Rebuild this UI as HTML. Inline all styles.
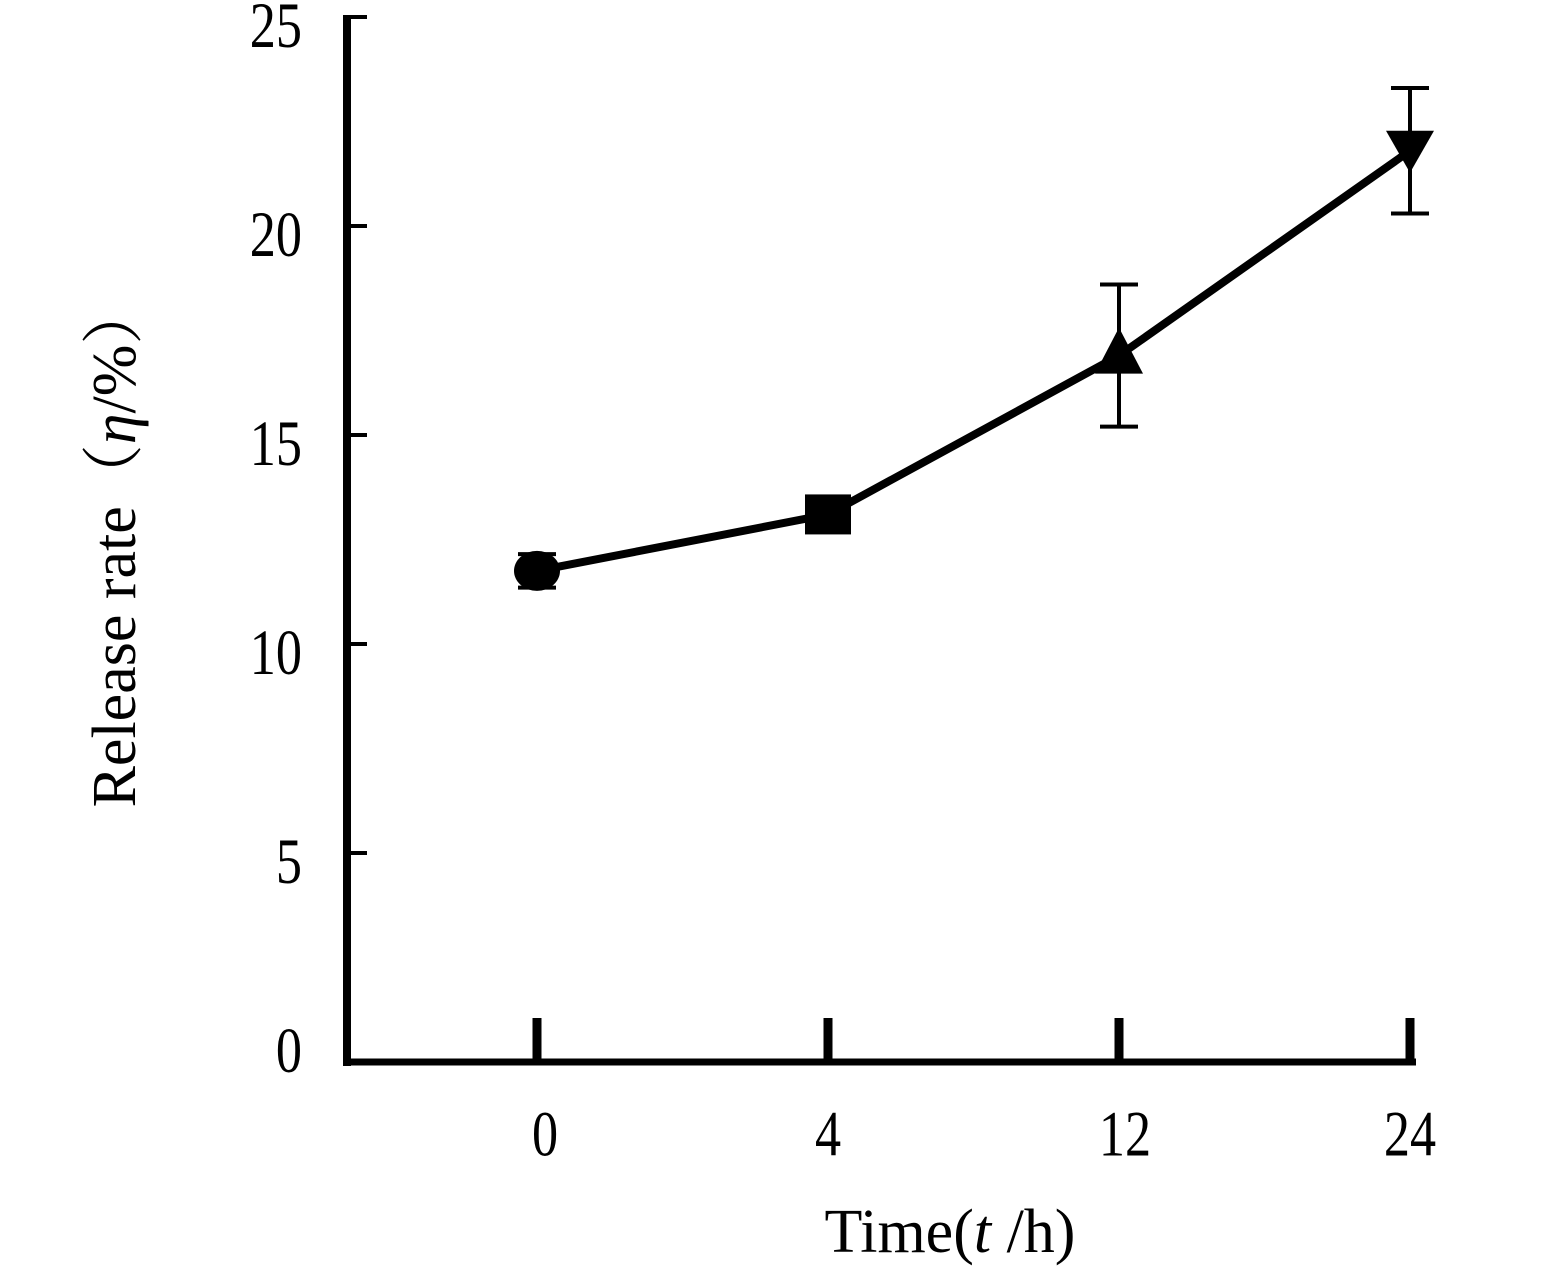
<!DOCTYPE html>
<html><head><meta charset="utf-8"><style>
html,body{margin:0;padding:0;background:#fff;}
svg{display:block;}
text{font-family:"Liberation Serif","Noto Serif CJK SC",serif;fill:#000;}
</style></head><body>
<svg id="chart" width="1567" height="1283" viewBox="0 0 1567 1283"></svg>
<script>
const categories = ["0","4","12","24"];
const values = [11.75, 13.1, 16.9, 21.8];
const errors = [0.4, 0, 1.7, 1.5];
const yTicks = [0,5,10,15,20,25];

const NS="http://www.w3.org/2000/svg";
const svg=document.getElementById('chart');
function el(tag,attrs,parent){const e=document.createElementNS(NS,tag);for(const k in attrs)e.setAttribute(k,attrs[k]);(parent||svg).appendChild(e);return e;}
const y0=1062, y25=17;
function yScale(v){return y0-(v/25)*(y0-y25);}
const xPos0=537, xStep=(1410-537)/(categories.length-1);
function xScale(i){return xPos0+i*xStep;}

let a=el('line',{x1:347,y1:15,x2:347,y2:1066,stroke:'#000','stroke-width':8});


a=el('line',{x1:343,y1:1062,x2:1416,y2:1062,stroke:'#000','stroke-width':7});



yTicks.forEach(v=>{
  const y=yScale(v);
  if(v>0){const t=el('line',{x1:347,y1:y,x2:367,y2:y,stroke:'#000','stroke-width':4});
  
  }
  const ly=y+(v===0?-10:10);
  const l=el('text',{x:302,y:ly+18,'font-size':58,'text-anchor':'end',transform:`translate(302 ${ly}) scale(0.9 1.12) translate(-302 ${-ly})`});
  l.textContent=v;
  
  
});
categories.forEach((c,i)=>{
  const x=xScale(i);
  const t=el('line',{x1:x,y1:1018,x2:x,y2:1062,stroke:'#000','stroke-width':9});
  
  
  const lx=x+(i==0?8:0)+(i==2?6:0);
  const l=el('text',{x:lx,y:1133+20,'font-size':58,'text-anchor':'middle',transform:`translate(${lx} 1133) scale(0.9 1.12) translate(${-lx} -1133)`});
  l.textContent=c;
  
  
});

const pts=values.map((v,i)=>xScale(i)+','+yScale(v)).join(' ');
const pl=el('polyline',{points:pts,fill:'none',stroke:'#000','stroke-width':8,'stroke-linejoin':'round'});



values.forEach((v,i)=>{
  if(!errors[i])return;
  const x=xScale(i),yt=yScale(v+errors[i]),yb=yScale(v-errors[i]);
  const g=el('g',{stroke:'#000','stroke-width':4});
  
  
  el('line',{x1:x,y1:yt,x2:x,y2:yb},g);
  el('line',{x1:x-19,y1:yt,x2:x+19,y2:yt},g);
  el('line',{x1:x-19,y1:yb,x2:x+19,y2:yb},g);
});

values.forEach((v,i)=>{
  const x=xScale(i),y=yScale(v);let m;
  if(i==0)m=el('ellipse',{cx:x,cy:y,rx:23,ry:20,fill:'#000'});
  else if(i==1)m=el('rect',{x:x-23,y:y-20,width:46,height:40,fill:'#000'});
  else if(i==2)m=el('polygon',{points:`${x},${y-28} ${x+24},${y+18} ${x-24},${y+18}`,fill:'#000'});
  else m=el('polygon',{points:`${x-24},${y-20} ${x+24},${y-20} ${x},${y+22}`,fill:'#000'});
  
  
});

const xt=el('text',{x:950,y:1252,'font-size':62,'text-anchor':'middle'});
xt.innerHTML='Time(<tspan font-style="italic">t</tspan> /h)';


const yt=el('text',{x:0,y:0,'font-size':62,'text-anchor':'middle',transform:'translate(135,545) rotate(-90)'});
yt.innerHTML='Release rate（<tspan font-style="italic">η</tspan>/%）';


</script>
</body></html>
